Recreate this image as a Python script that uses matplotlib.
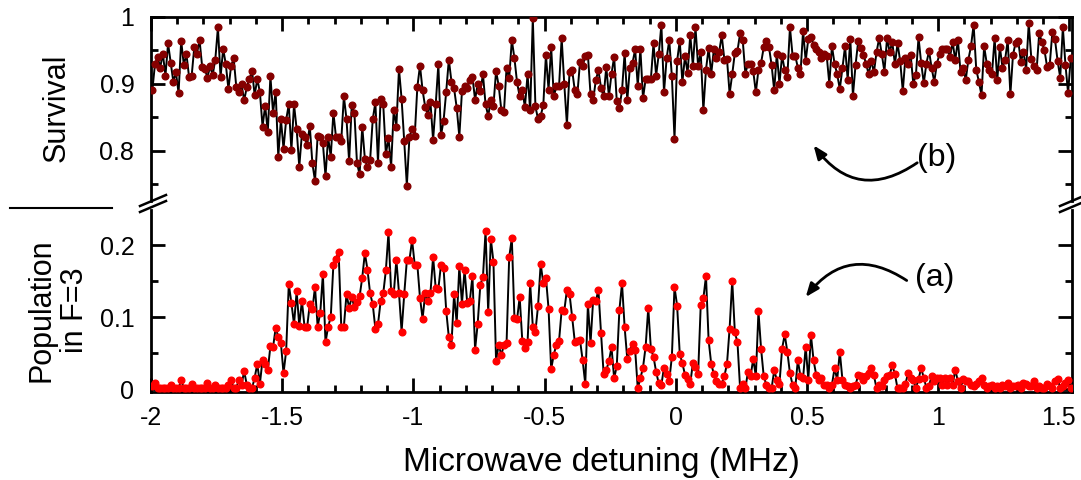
import numpy as np
import matplotlib
matplotlib.use('Agg')
import matplotlib.pyplot as plt
from matplotlib.lines import Line2D
from matplotlib.transforms import ScaledTranslation

# ── 1. Data ──────────────────────────────────────────────────
x_start = -1.995
x_step = 0.01

survival = [
    0.89, 0.929, 0.94, 0.924, 0.945, 0.912, 0.96, 0.931, 0.903, 0.917, 0.886, 0.964, 0.928, 0.944, 0.91,
    0.912, 0.955, 0.945, 0.965, 0.925, 0.922, 0.909, 0.926, 0.913, 0.936, 0.984, 0.91, 0.952, 0.929, 0.892,
    0.926, 0.938, 0.895, 0.887, 0.899, 0.875, 0.895, 0.907, 0.919, 0.883, 0.907, 0.887, 0.836, 0.867, 0.828,
    0.911, 0.857, 0.888, 0.791, 0.847, 0.803, 0.846, 0.869, 0.801, 0.869, 0.832, 0.776,
    0.825, 0.82, 0.809, 0.837, 0.781, 0.755, 0.822, 0.821, 0.811, 0.762, 0.82, 0.791, 0.857, 0.82, 0.82,
    0.815, 0.881, 0.847, 0.784, 0.868, 0.857, 0.781, 0.765, 0.836, 0.788, 0.775, 0.786, 0.847, 0.872, 0.782,
    0.877, 0.869, 0.795, 0.819, 0.776, 0.861, 0.836, 0.922, 0.877, 0.814, 0.748, 0.821, 0.832, 0.822, 0.895,
    0.927, 0.89, 0.865, 0.854, 0.872, 0.816, 0.869, 0.929, 0.823, 0.845, 0.888, 0.936,
    0.903, 0.893, 0.864, 0.821, 0.889, 0.896, 0.893, 0.905, 0.91, 0.876, 0.9, 0.889, 0.914, 0.869, 0.852,
    0.875, 0.867, 0.919, 0.897, 0.861, 0.858, 0.924, 0.908, 0.965, 0.938, 0.902, 0.881, 0.89, 0.865, 0.914,
    0.86, 0.998, 0.866, 0.847, 0.852, 0.868, 0.943, 0.891, 0.954, 0.881, 0.896, 0.896, 0.968, 0.899, 0.839,
    0.918, 0.92, 0.89, 0.885, 0.933, 0.927, 0.941, 0.943, 0.884, 0.875, 0.905, 0.92,
    0.894, 0.881, 0.925, 0.881, 0.915, 0.94, 0.874, 0.864, 0.89, 0.946, 0.875, 0.924, 0.931, 0.951, 0.897,
    0.952, 0.878, 0.907, 0.907, 0.907, 0.96, 0.912, 0.944, 0.988, 0.887, 0.938, 0.965, 0.911, 0.818, 0.934,
    0.964, 0.902, 0.941, 0.916, 0.973, 0.927, 0.984, 0.926, 0.947, 0.86, 0.921, 0.953, 0.915, 0.951, 0.939,
    0.947, 0.972, 0.936, 0.937, 0.885, 0.914, 0.946, 0.949, 0.975, 0.965, 0.915, 0.93,
    0.93, 0.919, 0.887, 0.921, 0.931, 0.954, 0.963, 0.955, 0.928, 0.89, 0.945, 0.9, 0.942, 0.92, 0.91,
    0.984, 0.942, 0.942, 0.924, 0.914, 0.979, 0.934, 0.967, 0.97, 0.958, 0.951, 0.948, 0.938, 0.944, 0.942,
    0.9, 0.956, 0.93, 0.914, 0.892, 0.923, 0.956, 0.906, 0.967, 0.882, 0.928, 0.963, 0.953, 0.943, 0.93,
    0.914, 0.934, 0.917, 0.947, 0.968, 0.944, 0.918, 0.968, 0.947, 0.962, 0.929, 0.96,
    0.934, 0.889, 0.939, 0.93, 0.943, 0.9, 0.913, 0.969, 0.931, 0.901, 0.93, 0.949, 0.923, 0.903, 0.93,
    0.944, 0.951, 0.951, 0.951, 0.94, 0.962, 0.935, 0.965, 0.918, 0.924, 0.906, 0.936, 0.956, 0.988, 0.921,
    0.903, 0.883, 0.956, 0.93, 0.92, 0.915, 0.968, 0.905, 0.955, 0.924, 0.936, 0.965, 0.884, 0.943, 0.961,
    0.964, 0.933, 0.947, 0.921, 0.99, 0.937, 0.926, 0.92, 0.976, 0.962, 0.95, 0.925, 0.928, 0.977, 0.966,
    0.934, 0.909, 0.984, 0.928, 0.886, 0.938,
]

population = [
    0.004, 0.008, 0.002, 0.001, 0.001, 0.001, 0.002, 0.006, 0.001, 0.001, 0.001, 0.013, 0.001, 0.001, 0.001,
    0.007, 0.001, 0.001, 0.001, 0.001, 0.001, 0.008, 0.001, 0.001, 0.006, 0.002, 0.001, 0.001, 0.002, 0.006,
    0.013, 0.001, 0.002, 0.013, 0.006, 0.025, 0.006, 0.001, 0.001,
    0.016, 0.035, 0.0075, 0.041, 0.035, 0.026, 0.06, 0.058, 0.085, 0.073, 0.064, 0.022, 0.053, 0.146, 0.12,
    0.09, 0.136, 0.088,
    0.123, 0.087, 0.086, 0.118, 0.111, 0.142, 0.087, 0.106, 0.16, 0.065, 0.087, 0.1, 0.173, 0.181, 0.191,
    0.087, 0.087, 0.132, 0.113, 0.128, 0.114, 0.121, 0.129, 0.155, 0.189, 0.166, 0.133, 0.118, 0.084, 0.09,
    0.122, 0.133, 0.165, 0.218, 0.136, 0.132, 0.18, 0.134, 0.08, 0.132, 0.179, 0.18, 0.207, 0.173, 0.173,
    0.127, 0.098, 0.133, 0.123, 0.134, 0.184, 0.14, 0.139, 0.173, 0.168, 0.109, 0.072,
    0.062, 0.132, 0.092, 0.171, 0.119, 0.166, 0.12, 0.123, 0.157, 0.055, 0.091, 0.145, 0.156, 0.22, 0.107,
    0.209, 0.177, 0.039, 0.062, 0.047, 0.062, 0.064, 0.183, 0.21, 0.099, 0.097, 0.128, 0.067, 0.057, 0.065,
    0.147, 0.087, 0.08, 0.116, 0.174, 0.147, 0.155, 0.112, 0.028, 0.048, 0.062, 0.067, 0.11, 0.109, 0.138,
    0.132, 0.1, 0.066, 0.067, 0.068, 0.04, 0.007, 0.118, 0.064, 0.124, 0.122, 0.138,
    0.078, 0.021, 0.026, 0.039, 0.058, 0.015, 0.032, 0.11, 0.147, 0.086, 0.042, 0.053, 0.063, 0.055, 0.001,
    0.015, 0.03, 0.059, 0.113, 0.056, 0.045, 0.024, 0.008, 0.006, 0.03, 0.021, 0.012, 0.045, 0.142, 0.116,
    0.049, 0.036, 0.02, 0.014, 0.0075, 0.036, 0.031, 0.021, 0.117, 0.126, 0.157, 0.068, 0.035, 0.021, 0.011,
    0.0075, 0.0075, 0.018, 0.035, 0.084, 0.151, 0.079, 0.065, 0.001, 0.007, 0.001, 0.024,
    0.018, 0.042, 0.018, 0.108, 0.056, 0.018, 0.006, 0.001, 0.001, 0.026, 0.013, 0.0075, 0.056, 0.076, 0.052,
    0.022, 0.006, 0.001, 0.04, 0.018, 0.015, 0.059, 0.013, 0.075, 0.04, 0.02, 0.013, 0.015, 0.006, 0.006,
    0.001, 0.006, 0.029, 0.013, 0.052, 0.013, 0.006, 0.005, 0.001, 0.005, 0.006, 0.019, 0.018, 0.013, 0.018,
    0.022, 0.03, 0.019, 0.001, 0.006, 0.005, 0.013, 0.018, 0.02, 0.033, 0.021, 0.001,
    0.001, 0.002, 0.007, 0.022, 0.016, 0.013, 0.001, 0.014, 0.029, 0.016, 0.002, 0.005, 0.018, 0.011, 0.016,
    0.016, 0.006, 0.015, 0.006, 0.016, 0.006, 0.027, 0.011, 0.001, 0.014, 0.011, 0.011, 0.006, 0.004, 0.007,
    0.011, 0.015, 0.006, 0.002, 0.004, 0.006, 0.002, 0.005, 0.002, 0.006, 0.005, 0.008, 0.002, 0.005, 0.004,
    0.006, 0.002, 0.008, 0.007, 0.004, 0.005, 0.011, 0.002, 0.004, 0.002, 0.002, 0.007, 0.004, 0.002, 0.011,
    0.014, 0.002, 0.004, 0.008, 0.013, 0.002,
]

x_ticks = [-2, -1.5, -1, -0.5, 0, 0.5, 1, 1.5]
x_ticklabels = ['-2', '-1.5', '-1', '-0.5', '0', '0.5', '1', '1.5']

x_surv = x_start + x_step * np.arange(len(survival))
x_pop = x_start + x_step * np.arange(len(population))

# ── 2. Style ─────────────────────────────────────────────────
plt.rcParams['font.family'] = ['Liberation Sans', 'DejaVu Sans']
plt.rcParams['axes.unicode_minus'] = False
plt.rcParams['axes.linewidth'] = 2.0

fig = plt.figure(figsize=(10.81, 4.80), dpi=100)
ax_top = fig.add_axes([0.1397, 0.5813, 0.852, 0.3840])
ax_bot = fig.add_axes([0.1397, 0.1833, 0.852, 0.3792])

# ── 3. Curves ────────────────────────────────────────────────
ax_top.plot(x_surv, survival, color='black', lw=1.4, marker='o', markersize=4.8,
            markerfacecolor='#850000', markeredgecolor='#850000', zorder=3)
ax_bot.plot(x_pop, population, color='black', lw=1.4, marker='o', markersize=4.8,
            markerfacecolor='#ff0000', markeredgecolor='#ff0000', zorder=3)

# ── 4. Axes ──────────────────────────────────────────────────
for ax in (ax_top, ax_bot):
    ax.set_xlim(-2, 1.51)
    ax.set_xticks(x_ticks)
    ax.set_xticks(np.arange(-2, 1.51, 0.1), minor=True)
    ax.tick_params(which='major', direction='in', length=10, width=2, labelsize=18)
    ax.tick_params(which='minor', direction='in', length=5, width=2)
    ax.tick_params(axis='y', which='both', left=True, right=True, pad=12)
    ax.tick_params(axis='x', pad=10)

ax_top.set_ylim(0.725, 1.0)
ax_top.set_yticks([0.8, 0.9, 1.0])
ax_top.set_yticklabels(['0.8', '0.9', '1'])
ax_top.set_yticks([0.75, 0.85, 0.95], minor=True)
ax_top.spines['bottom'].set_visible(False)
ax_top.tick_params(axis='x', which='both', top=True, bottom=False, labelbottom=False)

ax_bot.set_ylim(-0.004, 0.249)
ax_bot.set_yticks([0, 0.1, 0.2])
ax_bot.set_yticklabels(['0', '0.1', '0.2'])
ax_bot.set_yticks([0.05, 0.15], minor=True)
ax_bot.spines['top'].set_visible(False)
ax_bot.tick_params(axis='x', which='both', top=False, bottom=True)
ax_bot.set_xticklabels(x_ticklabels)
ax_bot.set_xlabel('Microwave detuning (MHz)', fontsize=24)
ax_bot.xaxis.set_label_coords(0.4886, -0.30)

# last x label sits just inside the figure edge, as in the reference
last = ax_bot.get_xticklabels()[-1]
last.set_transform(last.get_transform() + ScaledTranslation(-11 / 100, 0, fig.dpi_scale_trans))

# ── 5. Labels on the left ────────────────────────────────────
fig.text(57 / 1081, 1 - 108 / 480, 'Survival', rotation=90, fontsize=22,
         ha='center', va='center')
fig.text(58 / 1081, 1 - 310 / 480, 'Population\nin F=3', rotation=90, fontsize=22,
         ha='center', va='center', multialignment='center', linespacing=1.15)
fig.add_artist(Line2D([10 / 1081, 112 / 1081], [1 - 208 / 480, 1 - 208 / 480],
                      color='black', lw=1.5))

# ── 6. Axis break marks ──────────────────────────────────────
for x0 in (140, 1060):
    for dy in (0, 6):
        fig.add_artist(Line2D([x0 / 1081, (x0 + 26) / 1081],
                              [1 - (212 - dy) / 480, 1 - (201 - dy) / 480],
                              color='black', lw=1.8))

# ── 7. Annotations ───────────────────────────────────────────
ax_top.text(0.995, 0.789, '(b)', fontsize=23, ha='center', va='center')
ax_top.annotate('', xy=(0.525, 0.808), xytext=(0.92, 0.782),
                arrowprops=dict(arrowstyle='-|>,head_length=0.8,head_width=0.32',
                                connectionstyle='arc3,rad=-0.48',
                                color='black', lw=2, shrinkA=0, shrinkB=0))
ax_bot.text(0.985, 0.154, '(a)', fontsize=23, ha='center', va='center')
ax_bot.annotate('', xy=(0.495, 0.128), xytext=(0.88, 0.151),
                arrowprops=dict(arrowstyle='-|>,head_length=0.8,head_width=0.32',
                                connectionstyle='arc3,rad=0.46',
                                color='black', lw=2, shrinkA=0, shrinkB=0))

plt.savefig('out.png', dpi=100)
